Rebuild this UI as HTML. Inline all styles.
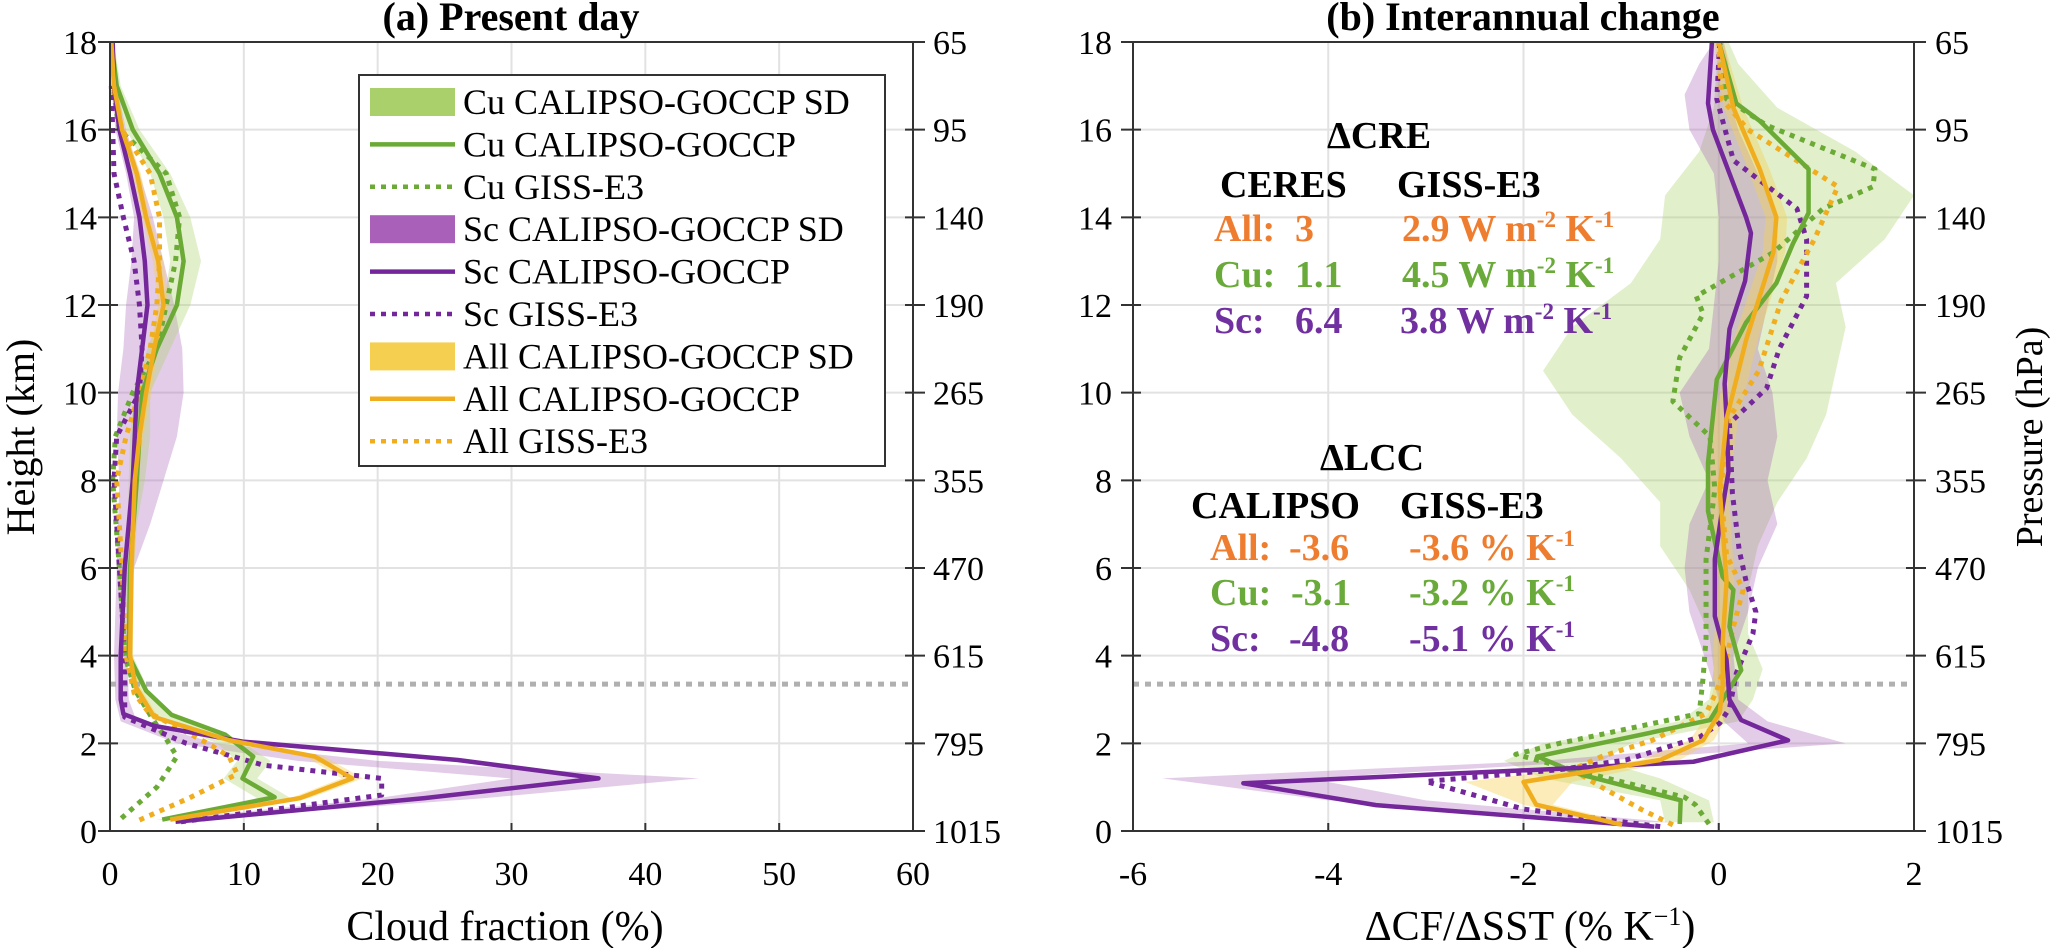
<!DOCTYPE html>
<html><head><meta charset="utf-8"><style>
html,body{margin:0;padding:0;background:#fff;}
svg{display:block;font-family:"Liberation Serif",serif;}
</style></head><body>
<svg id="chart" width="2067" height="948" viewBox="0 0 2067 948" xmlns="http://www.w3.org/2000/svg">
<g id="gA"></g>
<g id="gB"></g>
<text x="511" y="30" text-anchor="middle" font-size="40" font-weight="bold">(a) Present day</text>
<text x="1523" y="30" text-anchor="middle" font-size="40" font-weight="bold">(b) Interannual change</text>
<text transform="translate(34,437) rotate(-90)" text-anchor="middle" font-size="40">Height (km)</text>
<text transform="translate(2042,437) rotate(-90)" text-anchor="middle" font-size="38">Pressure (hPa)</text>
<text x="505" y="940" text-anchor="middle" font-size="42">Cloud fraction (%)</text>
<text x="1530" y="940" text-anchor="middle" font-size="42">ΔCF/ΔSST (% K<tspan font-size="26" dy="-15">−1</tspan><tspan dy="15">)</tspan></text>
<g font-weight="bold" font-size="38">
<text x="1327" y="148">ΔCRE</text>
<text x="1220" y="197">CERES</text>
<text x="1397" y="197">GISS-E3</text>
<text x="1214" y="241" fill="#ee7d2f">All:<tspan x="1295">3</tspan><tspan x="1402">2.9 W m</tspan><tspan font-size="23" dy="-14">-2</tspan><tspan dy="14"> K</tspan><tspan font-size="23" dy="-14">-1</tspan></text>
<text x="1214" y="287" fill="#6aaa3a">Cu:<tspan x="1295">1.1</tspan><tspan x="1402">4.5 W m</tspan><tspan font-size="23" dy="-14">-2</tspan><tspan dy="14"> K</tspan><tspan font-size="23" dy="-14">-1</tspan></text>
<text x="1214" y="333" fill="#7030a0">Sc:<tspan x="1295">6.4</tspan><tspan x="1400">3.8 W m</tspan><tspan font-size="23" dy="-14">-2</tspan><tspan dy="14"> K</tspan><tspan font-size="23" dy="-14">-1</tspan></text>
<text x="1320" y="470">ΔLCC</text>
<text x="1191" y="518">CALIPSO</text>
<text x="1400" y="518">GISS-E3</text>
<text x="1210" y="560" fill="#ee7d2f">All:<tspan x="1289">-3.6</tspan><tspan x="1409">-3.6 % K</tspan><tspan font-size="23" dy="-14">-1</tspan></text>
<text x="1210" y="605" fill="#6aaa3a">Cu:<tspan x="1291">-3.1</tspan><tspan x="1409">-3.2 % K</tspan><tspan font-size="23" dy="-14">-1</tspan></text>
<text x="1210" y="651" fill="#7030a0">Sc:<tspan x="1289">-4.8</tspan><tspan x="1409">-5.1 % K</tspan><tspan font-size="23" dy="-14">-1</tspan></text>
</g>
<g id="legend"></g>
</svg>
<script>
// ---------- Panel (a) data : heights (km) and cloud fraction (%) ----------
const aCuObsH = [0.26,0.77,1.2,1.7,2.2,2.65,3.2,4,6,8,10,11,12,13,14,15,16,17,18];
const aCuObsV = [3.9,12.3,9.9,10.7,8.6,4.6,2.7,1.4,1.5,2.0,2.4,3.5,5.0,5.5,5.0,3.7,1.7,0.5,0.1];
const aCuGissH = [0.29,1.0,1.7,2.1,2.5,3.2,4,6,8,9,10,11,12,13,14,15,16,17];
const aCuGissV = [0.85,3.5,5.0,4.2,3.3,1.9,1.1,0.7,0.2,0.4,1.7,3.5,4.2,4.9,5.2,4.2,0.7,0.2];
const aScObsH = [0.21,0.75,1.2,1.62,2.04,2.4,2.67,3,4,6,8,10,12,13,14,15,16,17,18];
const aScObsV = [4.9,23.5,36.5,26,9.9,3.3,1.0,0.8,0.8,1.1,1.7,2.0,2.8,2.6,2.2,1.5,0.7,0.3,0.2];
const aScGissH = [0.21,0.82,1.2,1.5,2.0,2.6,3,4,6,8,9,10,11,12,13,14,15,16,17];
const aScGissV = [5.3,20.3,20.3,11.5,5.7,1.1,1.1,1.1,0.7,0.3,0.5,2.2,2.4,2.2,1.8,1.0,0.3,0.2,0.1];
const aAllObsH = [0.26,0.75,1.2,1.7,2.07,2.6,3.3,4,6,8,9,10,11,12,13,14,15,16,17,18];
const aAllObsV = [4.5,14.2,18.1,15.3,8.9,3.3,1.9,1.5,1.6,1.85,2.2,2.7,3.3,4.0,3.6,2.7,2.0,0.9,0.3,0.1];
const aAllGissH = [0.25,0.75,1.3,1.7,2.0,2.7,3.15,4,6,8,9,10,11,12,13,14,15,16,17];
const aAllGissV = [2.2,5.9,9.5,8.9,7.3,2.9,1.8,1.2,0.9,0.5,1.2,2.2,3.0,3.5,3.7,3.7,3.0,0.9,0.2];
// SD bands (panel a)
const aBandH = [0.25,0.75,1.2,1.6,2.0,2.5,3,4,5,6,7,8,9,10,11,12,13,14,15,16,17,18];
const aCuLo = [3.5,11,8.5,9.5,8,4,2.2,1.2,1.2,1.2,1.3,1.4,1.5,1.8,2.8,4,4.5,4,3,1.2,0.3,0];
const aCuHi = [4.5,13.5,11,12,10,5.5,3.2,1.7,1.7,1.8,2.0,2.6,3,3,4.5,6,6.8,6,4.5,2.2,0.8,0.3];
const aScLo = [4,20,30,14,5,0.8,0.4,0.3,0.4,0.5,0.6,0.7,0.5,0.6,1,1.2,1.6,1.8,1.2,0.4,0.1,0];
const aScHi = [6,28,44,20,8,2,1.4,1.3,1.4,1.8,3,4,5,5.5,5.4,4.8,4,3.2,2.2,1.2,0.5,0.2];
const aAllLo = [4.2,13.5,17.3,14.6,8.4,3,1.6,1.3,1.4,1.6,1.9,2.3,3.0,3.6,3.2,2.4,1.7,0.7,0.2,0];
const aAllHi = [4.8,14.9,18.9,16,9.4,3.6,2.2,1.7,1.8,2.1,2.5,3.1,3.6,4.4,4.0,3.0,2.3,1.1,0.4,0.2];
const aAllBandH = [0.26,0.75,1.2,1.7,2.07,2.6,3.3,4,6,8,9,10,11,12,13,14,15,16,17,18];

// ---------- Panel (b) data : heights (km) and dCF/dSST (% K-1) ----------
const bCuObsH = [0.16,0.7,1.3,1.7,2.1,2.53,3.14,3.67,4.66,5.5,5.8,7.3,8.4,10.3,11.6,12.5,13.4,14.1,15.1,16.2,16.6,18];
const bCuObsV = [-0.4,-0.39,-1.43,-1.86,-1.0,-0.09,0.08,0.23,0.11,0.15,0.04,-0.11,-0.11,-0.02,0.28,0.59,0.76,0.92,0.92,0.42,0.18,0];
const bCuGissH = [0.16,0.6,0.77,1.4,1.75,2.0,2.68,3.5,4.4,6.2,7.8,9.0,9.8,10.8,11.8,12.2,13.2,14.2,14.7,15.1,16.1,16.7,18];
const bCuGissV = [-0.1,-0.24,-0.35,-1.5,-2.08,-1.63,-0.2,-0.16,-0.13,-0.13,-0.04,-0.09,-0.47,-0.4,-0.16,-0.23,0.56,1.07,1.58,1.6,0.49,0.08,0.01];
const bScObsH = [0.1,0.59,1.09,1.43,1.58,2.07,2.53,3.0,3.9,4.9,6.2,7.4,8.2,9.4,10.2,11.45,12.55,13.64,14,15,16,16.6,18];
const bScObsV = [-0.66,-3.51,-4.87,-1.54,-0.26,0.71,0.23,0.11,0.08,-0.04,-0.04,0.04,0.1,0.08,0.06,0.11,0.27,0.33,0.28,0.11,-0.06,-0.11,-0.07];
const bScGissH = [0.1,0.5,1.13,1.4,1.62,2.15,2.46,2.8,3.6,4.5,5.0,5.7,6.4,7.7,9.3,10.1,11,12.2,13.5,14.2,15.3,16.7,18];
const bScGissV = [-0.6,-2.0,-3.0,-1.63,-0.95,-0.19,0.01,0.11,0.18,0.35,0.38,0.28,0.21,0.14,0.11,0.49,0.62,0.9,0.9,0.8,0.15,-0.02,0.01];
const bAllObsH = [0.14,0.6,1.12,1.62,2.07,2.7,3.3,4.3,5.7,7.8,9.4,11.2,13.2,14,15.1,16.5,18];
const bAllObsV = [-0.99,-1.87,-2.0,-0.6,-0.16,0.01,0.04,0.04,0.08,0.01,0.08,0.28,0.56,0.59,0.42,0.15,0];
const bAllGissH = [0.14,0.5,1.0,1.4,1.7,2.07,2.68,3.2,3.75,4.66,5.5,6.3,7.8,9.4,10.5,12.1,13.5,14.7,16,16.7,18];
const bAllGissV = [-0.47,-0.8,-1.2,-1.5,-1.2,-0.68,-0.13,-0.02,0.06,0.15,0.25,0.08,0.02,0.1,0.41,0.64,0.98,1.22,0.3,0.03,0];
// SD bands (panel b)
const bCuBandH = [0.2,0.7,1.2,1.6,2.0,2.5,3,3.7,4.5,5.5,6.5,7.5,8.5,9.5,10.5,11.5,12.5,13.5,14.5,15.5,16.5,17.5,18];
const bCuLo = [-0.55,-0.6,-1.8,-2.2,-1.8,-0.4,-0.1,-0.05,-0.1,-0.3,-0.6,-0.6,-1.0,-1.5,-1.8,-1.5,-0.9,-0.6,-0.55,-0.2,-0.05,-0.02,0];
const bCuHi = [-0.05,-0.1,-0.6,-1.2,-0.9,0.2,0.35,0.45,0.3,0.3,0.4,0.6,0.9,1.1,1.2,1.3,1.2,1.7,2.0,1.4,0.6,0.2,0.1];
const bScBandH = [0.2,0.7,1.2,1.6,2.0,2.5,3,4,5,6,7,8,9,10,11,12,13,14,15,16,16.8,17.5,18];
const bScLo = [-0.8,-4,-5.7,-1.8,0.3,0.05,0,-0.15,-0.3,-0.35,-0.3,-0.1,-0.3,-0.4,-0.1,-0.05,0,0,-0.05,-0.3,-0.35,-0.2,-0.05];
const bScHi = [-0.5,-3,-4.2,-1.2,1.3,0.5,0.2,0.15,0.3,0.4,0.6,0.5,0.6,0.55,0.4,0.5,0.6,0.6,0.4,0.2,0.1,0.1,0.05];
const bAllBandH = [0.14,0.6,1.12,1.62,2.07,2.7,3.3,4.3,5.7,7.8,9.4,11.2,13.2,14,15.1,16.5,18];
const bAllLo = [-1.1,-2.0,-2.6,-0.8,-0.3,-0.1,-0.05,-0.05,0,-0.1,-0.05,0.15,0.45,0.48,0.3,0.05,-0.05];
const bAllHi = [-0.85,-1.7,-1.5,-0.4,-0.05,0.1,0.12,0.12,0.16,0.1,0.2,0.4,0.68,0.7,0.52,0.25,0.05];

const yTicks = [0,2,4,6,8,10,12,14,16,18];
const pressureLabels = ["1015","795","615","470","355","265","190","140","95","65"];
const aXTicks = [0,10,20,30,40,50,60];
const bXTicks = [-6,-4,-2,0,2];
const lowCloudTop = 3.35;

const NS = "http://www.w3.org/2000/svg";
const GREEN="#6aaa35", PURPLE="#74279a", ORANGE="#f0ae1e";
const GREEN_B="rgba(169,208,106,0.35)", PURPLE_B="rgba(168,96,184,0.32)", ORANGE_B="rgba(245,208,80,0.4)";
const TOP=42, BOT=831;
function yScale(h){ return BOT - (h/18)*(BOT-TOP); }
function mk(tag, attrs, parent){ const e=document.createElementNS(NS,tag); for(const k in attrs) e.setAttribute(k,attrs[k]); parent.appendChild(e); return e; }

function drawPanel(g, x0, x1, xmin, xmax, xTicks){
  const xs = v => x0 + (v-xmin)/(xmax-xmin)*(x1-x0);
  xTicks.forEach(t=>{ const l=mk("line",{x1:xs(t),x2:xs(t),y1:TOP,y2:BOT,stroke:"#e2e2e2","stroke-width":2},g);
    
     });
  yTicks.forEach(t=>{ const l=mk("line",{x1:x0,x2:x1,y1:yScale(t),y2:yScale(t),stroke:"#e2e2e2","stroke-width":2},g);
    
     });
  return xs;
}
function axes(g, x0, x1, xs, xTicks, leftLabelX, rightLabelX){
  const fr = mk("rect",{x:x0,y:TOP,width:x1-x0,height:BOT-TOP,fill:"none",stroke:"#333","stroke-width":2},g);
  
  
  xTicks.forEach(t=>{
    const tk=mk("line",{x1:xs(t),x2:xs(t),y1:BOT,y2:BOT-8,stroke:"#333","stroke-width":2},g);
    
    
    const tx=mk("text",{x:xs(t),y:885,"text-anchor":"middle","font-size":34},g);
    tx.textContent=String(t);
    
    
  });
  yTicks.forEach((t,i)=>{
    const y=yScale(t);
    const tk=mk("line",{x1:x0-12,x2:x0+8,y1:y,y2:y,stroke:"#333","stroke-width":2},g);
    
    
    const tk2=mk("line",{x1:x1-8,x2:x1+12,y1:y,y2:y,stroke:"#333","stroke-width":2},g);
    
    
    const tx=mk("text",{x:leftLabelX,y:y+12,"text-anchor":"end","font-size":34},g);
    tx.textContent=String(t);
    
    
    const px=mk("text",{x:rightLabelX,y:y+12,"font-size":34},g);
    px.textContent=pressureLabels[i];
    
    
  });
}
function band(g, xs, H, lo, hi, fill, name){
  let pts=[]; H.forEach((h,i)=>pts.push(xs(lo[i])+","+yScale(h)));
  for(let i=H.length-1;i>=0;i--) pts.push(xs(hi[i])+","+yScale(H[i]));
  const p=mk("polygon",{points:pts.join(" "),fill:fill,stroke:"none"},g);
  
  
}
function line(g, xs, H, V, color, dotted, name){
  const pts=H.map((h,i)=>xs(V[i])+","+yScale(h)).join(" ");
  const attrs={points:pts,fill:"none",stroke:color,"stroke-width":dotted?5:4.5,"stroke-linejoin":"round"};
  if(dotted) attrs["stroke-dasharray"]="5 6";
  const p=mk("polyline",attrs,g);
  
  
}
function refLine(g,x0,x1){
  const l=mk("line",{x1:x0,x2:x1,y1:yScale(lowCloudTop),y2:yScale(lowCloudTop),stroke:"#b0b0b0","stroke-width":5,"stroke-dasharray":"6 6"},g);
  
  
}

// Panel a
const gA=document.getElementById("gA");
const xsA=drawPanel(gA,110,913,0,60,aXTicks);
band(gA,xsA,aBandH,aScLo,aScHi,PURPLE_B,"sc-sd-band");
band(gA,xsA,aBandH,aCuLo,aCuHi,GREEN_B,"cu-sd-band");
band(gA,xsA,aAllBandH,aAllLo,aAllHi,ORANGE_B,"all-sd-band");
refLine(gA,110,913);
line(gA,xsA,aCuGissH,aCuGissV,GREEN,true,"cu-giss-line");
line(gA,xsA,aScGissH,aScGissV,PURPLE,true,"sc-giss-line");
line(gA,xsA,aAllGissH,aAllGissV,ORANGE,true,"all-giss-line");
line(gA,xsA,aCuObsH,aCuObsV,GREEN,false,"cu-calipso-line");
line(gA,xsA,aScObsH,aScObsV,PURPLE,false,"sc-calipso-line");
line(gA,xsA,aAllObsH,aAllObsV,ORANGE,false,"all-calipso-line");
axes(gA,110,913,xsA,aXTicks,97,933);

// Panel b
const gB=document.getElementById("gB");
const xsB=drawPanel(gB,1133,1914,-6,2,bXTicks);
band(gB,xsB,bCuBandH,bCuLo,bCuHi,GREEN_B,"cu-sd-band");
band(gB,xsB,bScBandH,bScLo,bScHi,PURPLE_B,"sc-sd-band");
band(gB,xsB,bAllBandH,bAllLo,bAllHi,ORANGE_B,"all-sd-band");
refLine(gB,1133,1914);
line(gB,xsB,bCuGissH,bCuGissV,GREEN,true,"cu-giss-line");
line(gB,xsB,bScGissH,bScGissV,PURPLE,true,"sc-giss-line");
line(gB,xsB,bAllGissH,bAllGissV,ORANGE,true,"all-giss-line");
line(gB,xsB,bCuObsH,bCuObsV,GREEN,false,"cu-calipso-line");
line(gB,xsB,bScObsH,bScObsV,PURPLE,false,"sc-calipso-line");
line(gB,xsB,bAllObsH,bAllObsV,ORANGE,false,"all-calipso-line");
axes(gB,1133,1914,xsB,bXTicks,1112,1935);

// Legend
const legendLabels = ["Cu CALIPSO-GOCCP SD","Cu CALIPSO-GOCCP","Cu GISS-E3","Sc  CALIPSO-GOCCP SD","Sc CALIPSO-GOCCP","Sc GISS-E3","All CALIPSO-GOCCP SD","All CALIPSO-GOCCP","All GISS-E3"];
const legendKinds = ["band","solid","dot","band","solid","dot","band","solid","dot"];
const legendColors = ["#a9d06a",GREEN,GREEN,"#a860b8",PURPLE,PURPLE,"#f5d050",ORANGE,ORANGE];
const lg=document.getElementById("legend");
const box=mk("rect",{x:359,y:75,width:526,height:391,fill:"#fff",stroke:"#333","stroke-width":2},lg);


legendLabels.forEach((lab,i)=>{
  const y=102+i*42.4;
  let sw;
  if(legendKinds[i]==="band") sw=mk("rect",{x:370,y:y-14,width:85,height:28,fill:legendColors[i]},lg);
  else { const a={x1:370,x2:455,y1:y,y2:y,stroke:legendColors[i],"stroke-width":4.5};
    if(legendKinds[i]==="dot") a["stroke-dasharray"]="5 6";
    sw=mk("line",a,lg); }
  
  
  const t=mk("text",{x:463,y:y+12,"font-size":36},lg);
  t.textContent=lab;
  t.setAttribute('xml:space','preserve');
  
  
});
</script>
</body></html>
